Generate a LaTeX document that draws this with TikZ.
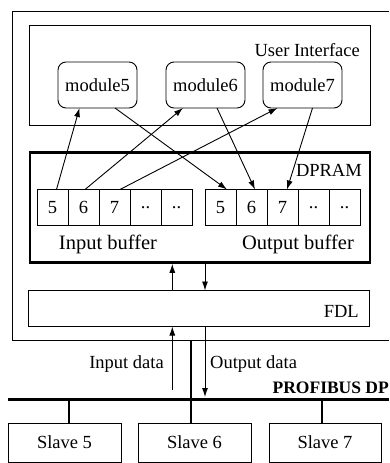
\documentclass[tikz,border=0pt]{standalone}
\usepackage{fontspec}
\setmainfont{Liberation Serif}
\usetikzlibrary{arrows.meta}
\begin{document}
\begin{tikzpicture}[x=1pt,y=-1pt,
  font=\fontsize{18.5}{21}\selectfont,
  thin line/.style={line width=0.9pt},
  box/.style={draw,line width=0.9pt,inner sep=0pt,outer sep=0pt},
  modbox/.style={box,rounded corners=8pt,minimum width=79pt,minimum height=46pt},
  cell/.style={box,minimum width=31pt,minimum height=36pt},
  slavebox/.style={box,minimum width=113pt,minimum height=39pt},
  lbl/.style={inner sep=0pt},
  buflbl/.style={lbl,font=\fontsize{20.5}{23}\selectfont},
  arr/.style={line width=0.9pt,-{Latex[length=9pt,width=6pt]}},
  heavy/.style={line width=2.6pt}]
\useasboundingbox (0,0) rectangle (389,463);
% outer frame
\draw[thin line] (389,11.5) -- (12,11.5) -- (12,340) -- (389,340);
% user interface
\node[box,minimum width=341pt,minimum height=100pt] (ui) at (200,75.5) {};
\node[lbl,anchor=east] (uit) at (360,50) {User Interface};
\node[modbox] (m5) at (97.5,85) {module5};
\node[modbox] (m6) at (205.5,85) {module6};
\node[modbox] (m7) at (302.5,85) {module7};
% DPRAM
\node[draw,line width=2.6pt,inner sep=0pt,minimum width=340pt,minimum height=110pt] (dpram) at (200,207.5) {};
\node[lbl,anchor=east] (dpt) at (362,170) {DPRAM};
\node[cell] (i5) at (52.5,207.5) {5};
\node[cell] (i6) at (83.5,207.5) {6};
\node[cell] (i7) at (114.5,207.5) {7};
\node[cell] (i8) at (145.5,207.5) {..};
\node[cell] (i9) at (176.5,207.5) {..};
\node[cell] (o5) at (220.5,207.5) {5};
\node[cell] (o6) at (251.5,207.5) {6};
\node[cell] (o7) at (282.5,207.5) {7};
\node[cell] (o8) at (313.5,207.5) {..};
\node[cell] (o9) at (344.5,207.5) {..};
\node[buflbl] (ib) at (108,244) {Input buffer};
\node[buflbl] (obt) at (298,244) {Output buffer};
% module <-> buffer connectors
\draw[arr] ([xshift=4pt]i5.north) -- ([xshift=-18pt]m5.south);
\draw[arr] ([xshift=1.5pt]i6.north) -- ([xshift=-22.5pt]m6.south);
\draw[arr] ([xshift=5.5pt]i7.north) -- ([xshift=-25pt]m7.south);
\draw[arr] ([xshift=17.5pt]m5.south) -- ([xshift=6.5pt]o5.north);
\draw[arr] ([xshift=11.5pt]m6.south) -- ([xshift=3.5pt]o6.north);
\draw[arr] ([xshift=10pt]m7.south) -- ([xshift=4.5pt]o7.north);
% FDL
\node[box,minimum width=341pt,minimum height=36pt] (fdl) at (198.5,308.5) {};
\node[lbl,anchor=east] (fdlt) at (359,311) {FDL};
\coordinate (upx) at (172.3,0);
\coordinate (dnx) at (205,0);
\draw[arr] (upx |- fdl.north) -- (upx |- dpram.south);
\draw[arr] (dnx |- dpram.south) -- (dnx |- fdl.north);
% data arrows
\coordinate (inbot) at (172.3,390);
\coordinate (outtip) at (205,397);
\draw[arr] (inbot) -- (inbot |- fdl.south);
\draw[arr] (outtip |- fdl.south) -- (outtip);
\node[lbl,anchor=east] (indt) at (164,364) {Input data};
\node[lbl,anchor=west] (outdt) at (210,364) {Output data};
% bus
\coordinate (busL) at (8,399.5);
\coordinate (busR) at (389,399.5);
\draw[heavy] (busL) -- (busR);
\node[lbl,anchor=east,font=\fontsize{17.5}{20}\selectfont\bfseries] (pdp) at (389,388) {PROFIBUS DP};
\node[slavebox] (s5) at (64.5,442.5) {Slave 5};
\node[slavebox] (s6) at (194.5,442.5) {Slave 6};
\node[slavebox,minimum width=112pt] (s7) at (325,442.5) {Slave 7};
\coordinate (ob) at (191,340);
\coordinate (b5) at (69,399.5);
\coordinate (b7) at (322,399.5);
\draw[heavy] (ob) -- (ob |- s6.north);
\draw[heavy] (b5) -- (b5 |- s5.north);
\draw[heavy] (b7) -- (b7 |- s7.north);
\end{tikzpicture}
\end{document}
